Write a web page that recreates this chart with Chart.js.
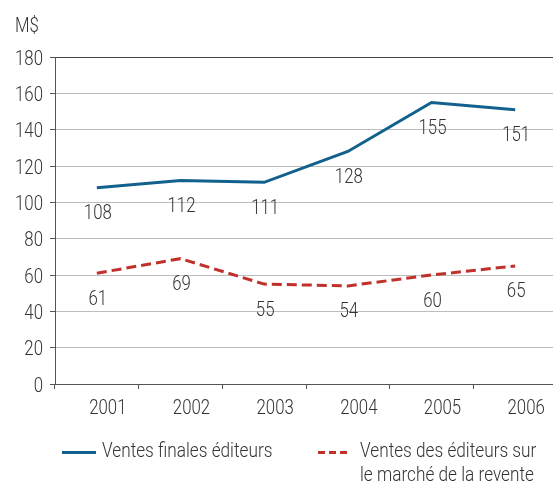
<!DOCTYPE html>
<html lang="fr">
<head>
<meta charset="utf-8">
<title>Ventes des éditeurs</title>
<script src="https://cdn.jsdelivr.net/npm/chart.js@4.4.1/dist/chart.umd.min.js"></script>
<style>
  html, body { margin: 0; padding: 0; background: #fff; overflow: hidden; }
  #wrap { position: relative; width: 553px; height: 485px; }
  canvas { position: absolute; left: 0; top: 0; }
  .legend { position: absolute; font: 300 21px Roboto, 'DejaVu Sans Condensed', sans-serif; line-height: 24px; color: #333; white-space: nowrap; transform: scaleX(0.82); transform-origin: 0 0; }
  .swatch { position: absolute; height: 3px; }
</style>
</head>
<body>
<div id="wrap">
  <canvas id="chart" width="557" height="485"></canvas>
  <div class="swatch" style="left:62px; top:451px; width:34px; background:#12618c;"></div>
  <div class="legend" style="left:102px; top:438px;">Ventes finales éditeurs</div>
  <div class="swatch" style="left:318px; top:451px; width:30px; background:repeating-linear-gradient(to right, #c1312c 0 7px, transparent 7px 11px);"></div>
  <div class="legend" style="left:360px; top:438px;">Ventes des éditeurs sur<br>le marché de la revente</div>
</div>
<script>
const years = ['2001', '2002', '2003', '2004', '2005', '2006'];
const ventesFinales = [108, 112, 111, 128, 155, 151];
const ventesRevente = [61, 69, 55, 54, 60, 65];
const yTicks = [0, 20, 40, 60, 80, 100, 120, 140, 160, 180];

const FONT = "Roboto, 'DejaVu Sans Condensed', sans-serif";
const TEXT = '#333';
const AXIS = '#555';
const SQUEEZE = 0.8; // la police d'origine est plus étroite

function narrowText(ctx, str, x, y, align) {
  ctx.save();
  ctx.translate(x, y);
  ctx.scale(SQUEEZE, 1);
  ctx.textAlign = align;
  ctx.fillText(str, 0, 0);
  ctx.restore();
}

// textes des axes, valeurs sous chaque point, unité en haut à gauche
const labelsPlugin = {
  id: 'valueLabels',
  afterDatasetsDraw(chart) {
    const ctx = chart.ctx;
    const xs = chart.scales.x;
    const ys = chart.scales.y;
    ctx.save();
    ctx.font = `300 21px ${FONT}`;
    ctx.fillStyle = TEXT;
    ctx.textBaseline = 'alphabetic';

    years.forEach((lab, i) => narrowText(ctx, lab, xs.getPixelForTick(i) + 11, xs.top + 30, 'center'));
    yTicks.forEach((v) => narrowText(ctx, String(v), ys.right - 12, ys.getPixelForValue(v) + 7.5, 'right'));

    chart.data.datasets.forEach((ds, i) => {
      chart.getDatasetMeta(i).data.forEach((pt, j) => {
        narrowText(ctx, String(ds.data[j]), pt.x + 1, pt.y + 31.5, 'center');
      });
    });
    narrowText(ctx, 'M$', 15, 32, 'left');
    ctx.restore();
  }
};

new Chart(document.getElementById('chart'), {
  type: 'line',
  data: {
    labels: years,
    datasets: [
      {
        label: 'Ventes finales éditeurs',
        data: ventesFinales,
        borderColor: '#12618c',
        borderWidth: 3,
        pointRadius: 0,
        tension: 0
      },
      {
        label: 'Ventes des éditeurs sur le marché de la revente',
        data: ventesRevente,
        borderColor: '#c1312c',
        borderWidth: 3,
        borderDash: [10, 5],
        pointRadius: 0,
        tension: 0
      }
    ]
  },
  options: {
    responsive: false,
    animation: false,
    layout: { padding: { left: 0, top: 57, right: 0, bottom: 0 } },
    plugins: { legend: { display: false }, tooltip: { enabled: false } },
    scales: {
      x: {
        offset: true,
        grid: { offset: true, drawOnChartArea: false, drawTicks: true, tickLength: 5, tickColor: AXIS },
        border: { display: true, color: AXIS, width: 1 },
        ticks: { display: false },
        afterFit: (s) => { s.height = 101; }
      },
      y: {
        min: 0,
        max: 180,
        afterBuildTicks: (s) => { s.ticks = yTicks.map((v) => ({ value: v })); },
        grid: {
          color: (c) => (c.tick && c.tick.value === 180 ? '#444' : '#bdbdbd'),
          tickLength: 5,
          tickColor: AXIS
        },
        border: { display: true, color: AXIS, width: 1 },
        ticks: { display: false },
        afterFit: (s) => { s.width = 55; }
      }
    }
  },
  plugins: [labelsPlugin]
});
</script>
</body>
</html>
